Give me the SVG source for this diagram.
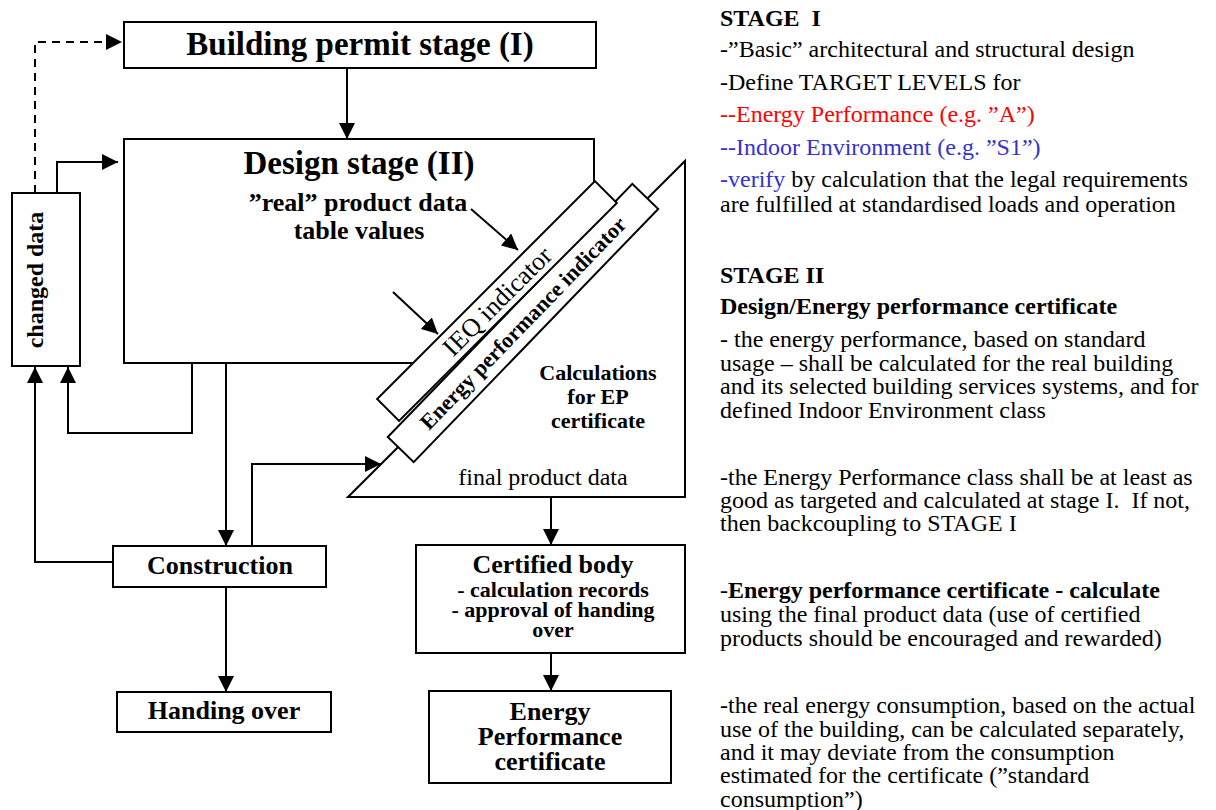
<svg xmlns="http://www.w3.org/2000/svg" width="1216" height="810" viewBox="0 0 1216 810">
  <style>
    .box { fill: #fff; stroke: #000; stroke-width: 2; }
    .ln { fill: none; stroke: #000; stroke-width: 2; }
    .dash { stroke-dasharray: 8 6; }
    text { font-family: "Liberation Serif", "Times New Roman", serif; fill: #000; }
    .b { font-weight: bold; }
    .c { text-anchor: middle; }
    .note { font-size: 24px; }
    .red { fill: #ff0000; }
    .blue { fill: #3333cc; }
  </style>
  <defs>
    <marker id="arrow" markerUnits="userSpaceOnUse" markerWidth="16" markerHeight="16" viewBox="0 0 16 16" refX="16" refY="8" orient="auto">
      <path d="M0,0 L16,8 L0,16 z" fill="#000"/>
    </marker>
  </defs>
  <rect width="1216" height="810" fill="#fff"/>

  <!-- calculation triangle (drawn first, partly covered by the indicator strips) -->
  <g id="calculations">
    <polygon class="box" points="348,497 685,161 685,497"/>
    <text class="b c" font-size="22" x="598" y="380">Calculations</text>
    <text class="b c" font-size="22" x="598" y="404">for EP</text>
    <text class="b c" font-size="22" x="598" y="428">certificate</text>
    <text class="c" font-size="24" x="543" y="485">final product data</text>
  </g>

  <g id="permit">
    <rect class="box" x="124" y="22" width="472" height="46"/>
    <text class="b c" font-size="33" x="360" y="55">Building permit stage (I)</text>
  </g>

  <g id="design">
    <polygon class="box" points="124,139 594,139 594,196 427,363 124,363"/>
    <text class="b c" font-size="33" x="359" y="174">Design stage (II)</text>
    <text class="b c" font-size="26" x="358" y="211">&#8221;real&#8221; product data</text>
    <text class="b c" font-size="26" x="359" y="239">table values</text>
  </g>

  <g id="ep-indicator" transform="translate(523,323) rotate(-46)">
    <rect class="box" x="-176" y="-18" width="352" height="36"/>
    <text class="b c" font-size="22" x="0" y="7.5">Energy performance indicator</text>
  </g>

  <g id="ieq-indicator" transform="translate(497,301) rotate(-45)">
    <rect class="box" x="-154" y="-15.5" width="308" height="31"/>
    <text class="c" font-size="26" x="0" y="9">IEQ indicator</text>
  </g>

  <g id="changed-data">
    <rect class="box" x="12" y="193" width="68" height="173"/>
    <text class="b c" font-size="24" transform="translate(43,280) rotate(-90)">changed data</text>
  </g>

  <g id="construction">
    <rect class="box" x="113" y="546" width="213" height="41"/>
    <text class="b c" font-size="26" x="220" y="574">Construction</text>
  </g>

  <g id="handing-over">
    <rect class="box" x="117" y="692" width="214" height="40"/>
    <text class="b c" font-size="26" x="224" y="719">Handing over</text>
  </g>

  <g id="certified-body">
    <rect class="box" x="416" y="545" width="269" height="108"/>
    <text class="b c" font-size="26" x="553" y="573">Certified body</text>
    <text class="b c" font-size="22" x="553" y="597">- calculation records</text>
    <text class="b c" font-size="22" x="553" y="617">- approval of handing</text>
    <text class="b c" font-size="22" x="553" y="637">over</text>
  </g>

  <g id="ep-certificate">
    <rect class="box" x="429" y="691" width="242" height="92"/>
    <text class="b c" font-size="26" x="550" y="720">Energy</text>
    <text class="b c" font-size="26" x="550" y="745">Performance</text>
    <text class="b c" font-size="26" x="550" y="770">certificate</text>
  </g>

  <g id="connectors" marker-end="url(#arrow)">
    <path class="ln" d="M347,68 V139" marker-end="url(#arrow)"/>
    <path class="ln dash" d="M35,193 V42 H122" marker-end="url(#arrow)"/>
    <path class="ln" d="M57,193 V162 H118" marker-end="url(#arrow)"/>
    <path class="ln" d="M226,363 V546" marker-end="url(#arrow)"/>
    <path class="ln" d="M113,562 H35 V367" marker-end="url(#arrow)"/>
    <path class="ln" d="M192,363 V433 H68 V367" marker-end="url(#arrow)"/>
    <path class="ln" d="M252,546 V464 H381" marker-end="url(#arrow)"/>
    <path class="ln" d="M226,587 V692" marker-end="url(#arrow)"/>
    <path class="ln" d="M551,497 V545" marker-end="url(#arrow)"/>
    <path class="ln" d="M551,653 V691" marker-end="url(#arrow)"/>
    <path class="ln" d="M471,209 L518,250" marker-end="url(#arrow)"/>
    <path class="ln" d="M393,292 L438,334" marker-end="url(#arrow)"/>
  </g>

  <!-- explanatory notes -->
  <g id="notes" class="note">
    <text class="b" x="720" y="26">STAGE &#160;I</text>
    <text x="720" y="57">-&#8221;Basic&#8221; architectural and structural design</text>
    <text x="720" y="90">-Define TARGET LEVELS for</text>
    <text class="red" x="720" y="122">--Energy Performance (e.g. &#8221;A&#8221;)</text>
    <text class="blue" x="720" y="155">--Indoor Environment (e.g. &#8221;S1&#8221;)</text>
    <text x="720" y="187"><tspan class="blue">-verify</tspan> by calculation that the legal requirements</text>
    <text x="720" y="212">are fulfilled at standardised loads and operation</text>

    <text class="b" x="720" y="283">STAGE II</text>
    <text class="b" x="720" y="314">Design/Energy performance certificate</text>
    <text x="720" y="347">- the energy performance, based on standard</text>
    <text x="720" y="371">usage &#8211; shall be calculated for the real building</text>
    <text x="720" y="394">and its selected building services systems, and for</text>
    <text x="720" y="418">defined Indoor Environment class</text>

    <text x="720" y="485">-the Energy Performance class shall be at least as</text>
    <text x="720" y="508">good as targeted and calculated at stage I. &#160;If not,</text>
    <text x="720" y="531">then backcoupling to STAGE I</text>

    <text x="720" y="598">-<tspan class="b">Energy performance certificate - calculate</tspan></text>
    <text x="720" y="622">using the final product data (use of certified</text>
    <text x="720" y="646">products should be encouraged and rewarded)</text>

    <text x="720" y="713">-the real energy consumption, based on the actual</text>
    <text x="720" y="737">use of the building, can be calculated separately,</text>
    <text x="720" y="760">and it may deviate from the consumption</text>
    <text x="720" y="783">estimated for the certificate (&#8221;standard</text>
    <text x="720" y="807">consumption&#8221;)</text>
  </g>
</svg>
